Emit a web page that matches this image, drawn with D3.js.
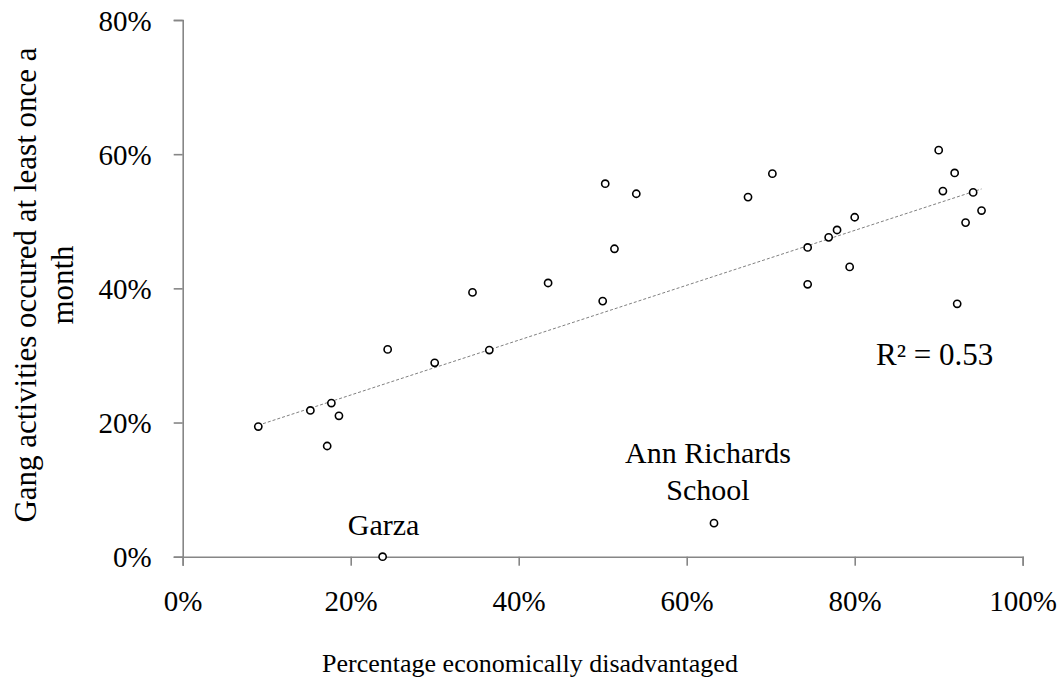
<!DOCTYPE html>
<html>
<head>
<meta charset="utf-8">
<script src="https://cdn.jsdelivr.net/npm/d3@7"></script>
<style>
  body { margin: 0; background: #fff; }
</style>
</head>
<body>
<div id="chart"></div>
<script>
// Datos: porcentaje económicamente desfavorecido vs actividades de pandillas
const pctDisadvantaged = [9.0, 15.2, 17.2, 17.7, 18.6, 23.8, 24.4, 30.0, 34.5, 36.5, 43.5, 50.0,
  50.3, 51.4, 54.0, 63.25, 67.3, 70.2, 74.4, 74.4, 76.9, 77.9, 79.4, 80.0, 90.0, 90.5, 91.9,
  92.2, 93.2, 94.1, 95.1];
const pctGang = [19.4, 21.8, 16.5, 22.9, 21.0, 0.0, 30.9, 28.9, 39.4, 30.8, 40.8, 38.1,
  55.6, 45.9, 54.1, 5.0, 53.6, 57.1, 46.1, 40.6, 47.6, 48.7, 43.2, 50.6, 60.6, 54.5, 57.2,
  37.7, 49.8, 54.3, 51.6];
const xTicks = [0, 20, 40, 60, 80, 100];
const yTicks = [0, 20, 40, 60, 80];
const labels = [
  { name: "Garza", x: 23.8, y: 0 },
  { name: "Ann Richards School", x: 63.25, y: 5.0 }
];
const r2Label = "R² = 0.53";

const width = 1059, height = 682;
const mLeft = 182.7, mRight = 1022.7, mTop = 20, mBottom = 556.7;
const serif = "'Liberation Serif', 'Times New Roman', serif";

const points = pctDisadvantaged.map((x, i) => ({ x: x, y: pctGang[i] }));

const x = d3.scaleLinear().domain([0, 100]).range([mLeft, mRight]);
const y = d3.scaleLinear().domain([0, 80]).range([mBottom, mTop]);

const svg = d3.select("#chart").append("svg")
  .attr("width", width)
  .attr("height", height);

// ejes
const xAxis = svg.append("g")
  .attr("transform", "translate(0," + mBottom + ")")
  .call(d3.axisBottom(x).tickValues(xTicks).tickSize(9).tickPadding(25).tickFormat(d => d + "%"));

const yAxis = svg.append("g")
  .attr("transform", "translate(" + mLeft + ",0)")
  .call(d3.axisLeft(y).tickValues(yTicks).tickSize(9).tickPadding(22).tickFormat(d => d + "%"));

[xAxis, yAxis].forEach(g => {
  g.select(".domain").attr("stroke", "#868686").attr("stroke-width", 1.6);
  g.selectAll(".tick line").attr("stroke", "#868686").attr("stroke-width", 1.6);
  g.selectAll(".tick text")
    .style("font-family", serif)
    .style("font-size", "29px")
    .attr("fill", "#000");
});
yAxis.selectAll(".tick text").attr("dy", "0.35em");

// línea de tendencia (regresión lineal)
const mx = d3.mean(points, d => d.x), my = d3.mean(points, d => d.y);
const slope = d3.sum(points, d => (d.x - mx) * (d.y - my)) / d3.sum(points, d => (d.x - mx) * (d.x - mx));
const intercept = my - slope * mx;
const xExt = d3.extent(points, d => d.x);

svg.append("line")
  .attr("x1", x(xExt[0]))
  .attr("y1", y(intercept + slope * xExt[0]))
  .attr("x2", x(xExt[1]))
  .attr("y2", y(intercept + slope * xExt[1]))
  .attr("stroke", "#808080")
  .attr("stroke-width", 1)
  .attr("stroke-dasharray", "3,2");

// puntos
svg.selectAll("circle")
  .data(points)
  .enter()
  .append("circle")
  .attr("cx", d => x(d.x))
  .attr("cy", d => y(d.y))
  .attr("r", 3.6)
  .attr("fill", "#fff")
  .attr("stroke", "#000")
  .attr("stroke-width", 1.6);

function addText(px, py, size) {
  return svg.append("text")
    .attr("x", px)
    .attr("y", py)
    .style("font-family", serif)
    .style("font-size", size + "px")
    .attr("fill", "#000");
}

// etiquetas de escuelas
addText(x(labels[0].x) + 1, y(labels[0].y) - 22, 30)
  .attr("text-anchor", "middle")
  .text(labels[0].name);

const annX = x(labels[1].x) - 6;
const ann = addText(annX, y(labels[1].y) - 60, 30).attr("text-anchor", "middle");
ann.append("tspan").attr("x", annX).text("Ann Richards");
ann.append("tspan").attr("x", annX).attr("dy", 37).text("School");

addText(876, 365, 31).text(r2Label);

// títulos de ejes
addText(530, 672, 26)
  .attr("text-anchor", "middle")
  .text("Percentage economically disadvantaged");

const yTitle = addText(0, 0, 31)
  .attr("transform", "translate(36,285) rotate(-90)")
  .attr("text-anchor", "middle");
yTitle.append("tspan").attr("x", 0).attr("y", 0).text("Gang activities occured at least once a");
yTitle.append("tspan").attr("x", 0).attr("y", 37).text("month");
</script>
</body>
</html>
